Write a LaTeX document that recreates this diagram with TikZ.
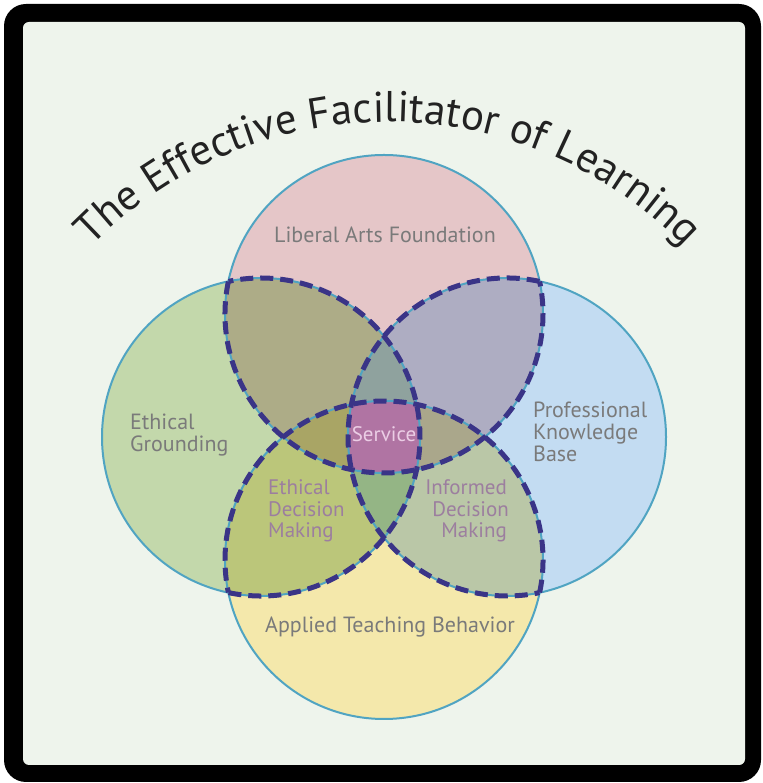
\documentclass[tikz,border=0pt]{standalone}
\usepackage{fontspec}
\setmainfont{PT Sans}
\usetikzlibrary{decorations.text}
\definecolor{bgc}{HTML}{EEF4EC}
\definecolor{cT}{HTML}{E5C6C8}
\definecolor{cL}{HTML}{C3D8AB}
\definecolor{cR}{HTML}{C3DCF2}
\definecolor{cB}{HTML}{F4E8AB}
\definecolor{cTL}{HTML}{ADAC87}
\definecolor{cTR}{HTML}{AEADC2}
\definecolor{cLB}{HTML}{BBC67A}
\definecolor{cRB}{HTML}{BAC7A7}
\definecolor{cTLR}{HTML}{8FA29E}
\definecolor{cLRB}{HTML}{94B585}
\definecolor{cTLB}{HTML}{A9A565}
\definecolor{cTRB}{HTML}{AAA78B}
\definecolor{cALL}{HTML}{B074A3}
\definecolor{cteal}{HTML}{50A4C2}
\definecolor{cnavy}{HTML}{3A3487}
\definecolor{labgrey}{HTML}{7A7A7A}
\definecolor{labmauve}{HTML}{9C7E9F}
\definecolor{servc}{HTML}{EBCDE5}
\definecolor{titlec}{HTML}{222222}
\newcommand\titlefnt{\fontsize{43}{43}\selectfont}
\tikzset{
  outline/.style={draw=cteal, line width=2pt},
  overlap/.style={draw=cnavy, line width=5pt, dash pattern=on 13pt off 7pt},
  lab/.style={font=\fontsize{22}{22}\selectfont, text=labgrey, inner sep=0pt},
  inlab/.style={font=\fontsize{21}{21}\selectfont, text=labmauve, inner sep=0pt},
}
\begin{document}
\begin{tikzpicture}[x=1pt,y=1pt]
\useasboundingbox (0,0) rectangle (762,783);
\fill[black, rounded corners=22pt] (4,1) rectangle (761,779);
\fill[bgc, rounded corners=6pt] (23,18) rectangle (745,761);
\def\R{159}
\coordinate (T) at (384,469);
\coordinate (L) at (261,346);
\coordinate (Rc) at (507,346);
\coordinate (B) at (384,223);
\coordinate (C0) at (388,246);
% single fills
\fill[cT] (T) circle (\R);
\fill[cL] (L) circle (\R);
\fill[cR] (Rc) circle (\R);
\fill[cB] (B) circle (\R);
% pairs
\begin{scope}
  \clip (T) circle (\R);
  \fill[cTL] (L) circle (\R);
  \fill[cTR] (Rc) circle (\R);
\end{scope}
\begin{scope}
  \clip (B) circle (\R);
  \fill[cLB] (L) circle (\R);
  \fill[cRB] (Rc) circle (\R);
\end{scope}
% triples
\begin{scope}
  \clip (T) circle (\R);
  \clip (L) circle (\R);
  \fill[cTLR] (Rc) circle (\R);
  \fill[cTLB] (B) circle (\R);
\end{scope}
\begin{scope}
  \clip (B) circle (\R);
  \clip (Rc) circle (\R);
  \fill[cLRB] (L) circle (\R);
  \fill[cTRB] (T) circle (\R);
\end{scope}
% all four
\begin{scope}
  \clip (T) circle (\R);
  \clip (L) circle (\R);
  \clip (Rc) circle (\R);
  \fill[cALL] (B) circle (\R);
\end{scope}
% outlines
\draw[outline] (T) circle (\R);
\draw[outline] (L) circle (\R);
\draw[outline] (Rc) circle (\R);
\draw[outline] (B) circle (\R);
% dashed overlap boundaries
\draw[overlap] ([shift={(168.2:\R)}]T) arc[start angle=168.2, end angle=371.8, radius=\R];
\draw[overlap] ([shift={(-101.8:\R)}]L) arc[start angle=-101.8, end angle=101.8, radius=\R];
\draw[overlap] ([shift={(78.2:\R)}]Rc) arc[start angle=78.2, end angle=281.8, radius=\R];
\draw[overlap] ([shift={(-11.8:\R)}]B) arc[start angle=-11.8, end angle=191.8, radius=\R];
% title
\path[decorate, decoration={text along path, text align=center,
  text={|\titlefnt\color{titlec}|The Effective Facilitator of Learning}}]
  ([shift={(150:415)}]C0) arc[start angle=150, end angle=30, radius=415];
% labels
\node[lab, anchor=base] (lib) at (385,540) {Liberal Arts Foundation};
\node[lab, anchor=base west] (eg1) at (130,353) {Ethical};
\node[lab, anchor=base west] (eg2) at (130,331) {Grounding};
\node[lab, anchor=base west] (pk1) at (533,365) {Professional};
\node[lab, anchor=base west] (pk2) at (533,343) {Knowledge};
\node[lab, anchor=base west] (pk3) at (533,321) {Base};
\node[lab, anchor=base] (atb) at (390,150) {Applied Teaching Behavior};
\node[inlab, text=servc, anchor=base] (serv) at (384,341) {Service};
\node[inlab, anchor=base west] (ed1) at (268,288) {Ethical};
\node[inlab, anchor=base west] (ed2) at (268,266) {Decision};
\node[inlab, anchor=base west] (ed3) at (268,245) {Making};
\node[inlab, anchor=base east] (id1) at (507,288) {Informed};
\node[inlab, anchor=base east] (id2) at (509,266) {Decision};
\node[inlab, anchor=base east] (id3) at (507,245) {Making};
\end{tikzpicture}
\end{document}
